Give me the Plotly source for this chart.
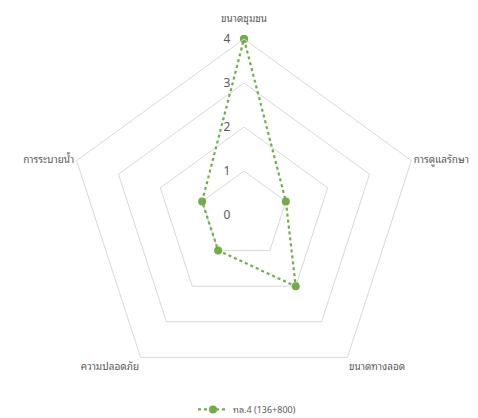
import plotly.graph_objects as go

categories = ["ขนาดชุมชน", "การดูแลรักษา", "ขนาดทางลอด", "ความปลอดภัย", "การระบายน้ำ"]
values = [4, 1, 2, 1, 1]
series_name = "ทล.4 (136+800)"
radial_ticks = [0, 1, 2, 3, 4]
# top label gets an empty second line so it sits higher above the apex
category_ticktext = [categories[0] + "<br> "] + categories[1:]

W, H = 478, 418
cx, cy, R = 236, 207, 176

fig = go.Figure()
fig.add_trace(go.Scatterpolar(
    r=values + values[:1],
    theta=categories + categories[:1],
    mode="lines+markers",
    name=series_name,
    line=dict(color="#70AD47", width=2.2, dash="dot"),
    marker=dict(color="#70AD47", size=8),
))

thai_font = "Noto Sans Thai Looped, Tahoma, Loma, Noto Sans Thai, Noto Sans, sans-serif"

fig.update_layout(
    width=W, height=H,
    margin=dict(l=0, r=0, t=0, b=0),
    paper_bgcolor="white",
    font=dict(family=thai_font, color="#595959", size=10),
    polar=dict(
        domain=dict(x=[(cx - R) / W, (cx + R) / W], y=[(H - cy - R) / H, (H - cy + R) / H]),
        bgcolor="white",
        gridshape="linear",
        radialaxis=dict(
            range=[0, 4], tickvals=radial_ticks, showline=False,
            ticks="outside", ticklen=9, tickcolor="rgba(0,0,0,0)",
            gridcolor="#d9d9d9", gridwidth=1, angle=90, tickangle=90,
            side="counterclockwise",
            tickfont=dict(size=12, color="#595959"),
        ),
        angularaxis=dict(
            direction="clockwise", rotation=90, showgrid=False,
            showline=True, linecolor="#d9d9d9", linewidth=1,
            ticks="", tickmode="array", tickvals=categories, ticktext=category_ticktext,
            tickfont=dict(size=10, color="#595959"),
        ),
    ),
    showlegend=True,
    legend=dict(orientation="h", x=0.5, xanchor="center", y=0.005, yanchor="bottom",
                font=dict(size=9, color="#595959")),
)

fig.write_html("out.html")
